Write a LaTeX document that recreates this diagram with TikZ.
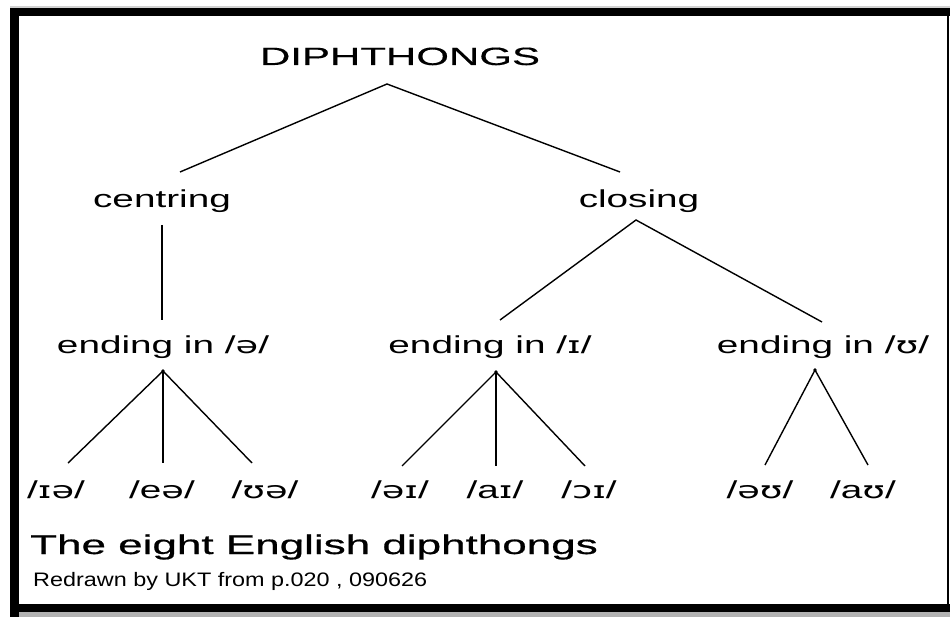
\documentclass[tikz,border=0pt]{standalone}
\usepackage{fontspec}
\usepackage{graphicx}
\setmainfont{Liberation Sans}
\newfontfamily\ipa{DejaVu Sans}[Scale=0.95]
\newfontfamily\capfont{Liberation Sans}[FakeBold=0.6]
\newfontfamily\titlefont{Liberation Sans}[FakeBold=0.3]
\newcommand{\lbl}[1]{\scalebox{1.58}[1]{\fontsize{24.5}{28}\selectfont #1}}
\newcommand{\ip}[1]{{\ipa #1}}
\tikzset{
  txt/.style={inner sep=0pt, anchor=base},
  conn/.style={line width=1.4pt, black},
}
\begin{document}
\begin{tikzpicture}[x=1pt,y=-1pt]
\useasboundingbox (0,0) rectangle (950,617);
% frame
\fill[gray!35] (10,6) rectangle (950,8);
\fill[black] (10,8) rectangle (950,16);
\fill[black] (10,8) rectangle (19,617);
\fill[black] (946.5,8) rectangle (948.5,612);
\fill[black] (10,604) rectangle (950,612);
\fill[gray!60] (19,612) rectangle (950,617);
% texts
\node[txt] (root) at (400,65) {\scalebox{1.68}[1]{\fontsize{25}{28}\titlefont DIPHTHONGS}};
\node[txt] (cent) at (162,208) {\lbl{centring}};
\node[txt] (clos) at (639,208) {\lbl{closing}};
\node[txt] (endA) at (163,353) {\lbl{ending in /\ip{ə}/}};
\node[txt] (endI) at (490,353) {\lbl{ending in /\ip{ɪ}/}};
\node[txt] (endU) at (823,353) {\lbl{ending in /\ip{ʊ}/}};
\node[txt] (ia) at (56,498) {\lbl{/\ip{ɪə}/}};
\node[txt] (ea) at (162,498) {\lbl{/e\ip{ə}/}};
\node[txt] (ua) at (265,498) {\lbl{/\ip{ʊə}/}};
\node[txt] (ai1) at (400,498) {\lbl{/\ip{əɪ}/}};
\node[txt] (ai2) at (495,498) {\lbl{/a\ip{ɪ}/}};
\node[txt] (oi) at (589,498) {\lbl{/\ip{ɔɪ}/}};
\node[txt] (au1) at (760,498) {\lbl{/\ip{əʊ}/}};
\node[txt] (au2) at (863,498) {\lbl{/a\ip{ʊ}/}};
\node[txt, anchor=base west] (cap) at (30,554) {\scalebox{1.63}[1]{\fontsize{27}{30}\capfont The eight English diphthongs}};
\node[txt, anchor=base west] (red) at (33,586) {\scalebox{1.2}[1]{\fontsize{19.5}{22}\selectfont Redrawn by UKT from p.020 , 090626}};
% connector points
\coordinate (rootA) at (387,84);
\coordinate (centT) at (180,172);
\coordinate (closT) at (620,172);
\coordinate (centB) at (162,225);
\coordinate (endAT) at (162,320);
\coordinate (closB) at (636,220);
\coordinate (endIT) at (500,320);
\coordinate (endUT) at (822,322);
\coordinate (endAB) at (163,371);
\coordinate (endIB) at (496,372);
\coordinate (endUB) at (815,370);
\coordinate (iaT) at (68,463);
\coordinate (eaT) at (163,463);
\coordinate (uaT) at (252,463);
\coordinate (ai1T) at (402,466);
\coordinate (ai2T) at (496,466);
\coordinate (oiT) at (585,466);
\coordinate (au1T) at (765,465);
\coordinate (au2T) at (868,465);
% connectors
\draw[conn] (centT) -- (rootA) -- (closT);
\draw[conn] (centB) -- (endAT);
\draw[conn] (endIT) -- (closB) -- (endUT);
\draw[conn] (iaT) -- (endAB) -- (uaT);
\draw[conn] (endAB) -- (eaT);
\draw[conn] (ai1T) -- (endIB) -- (oiT);
\draw[conn] (endIB) -- (ai2T);
\draw[conn] (au1T) -- (endUB) -- (au2T);
\fill (endAB) circle (1.8);
\fill (endIB) circle (1.8);
\fill (endUB) circle (1.8);
\end{tikzpicture}
\end{document}
